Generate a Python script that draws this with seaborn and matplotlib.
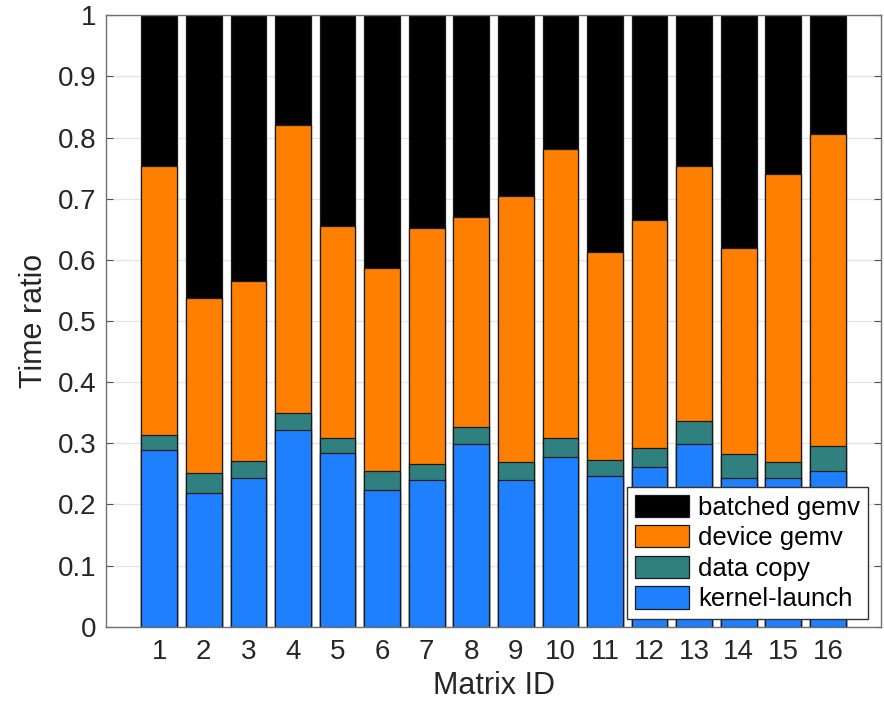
import numpy as np
import pandas as pd
import matplotlib
matplotlib.use("Agg")
import matplotlib.pyplot as plt
import seaborn as sns
from matplotlib.patches import Patch

# ---- data ----
matrix_ids = [str(i) for i in range(1, 17)]
kernel_launch = [0.289, 0.218, 0.243, 0.322, 0.284, 0.223, 0.240, 0.299,
                 0.240, 0.278, 0.246, 0.261, 0.298, 0.243, 0.243, 0.254]
data_copy = [0.024, 0.033, 0.028, 0.027, 0.025, 0.031, 0.026, 0.027,
             0.030, 0.031, 0.026, 0.031, 0.039, 0.040, 0.027, 0.041]
device_gemv = [0.440, 0.286, 0.294, 0.471, 0.347, 0.333, 0.386, 0.344,
               0.435, 0.472, 0.340, 0.373, 0.417, 0.337, 0.471, 0.510]
batched_gemv = [0.247, 0.463, 0.435, 0.180, 0.344, 0.413, 0.348, 0.330,
                0.295, 0.219, 0.388, 0.335, 0.246, 0.380, 0.259, 0.195]
series_names = ["kernel-launch", "data copy", "device gemv", "batched gemv"]
series_colors = ["#1f80ff", "#318080", "#ff8000", "#000000"]
ytick_values = [0, 0.1, 0.2, 0.3, 0.4, 0.5, 0.6, 0.7, 0.8, 0.9, 1]
ytick_labels = ["0", "0.1", "0.2", "0.3", "0.4", "0.5", "0.6", "0.7", "0.8", "0.9", "1"]

df = pd.DataFrame({
    "Matrix ID": matrix_ids,
    "kernel-launch": kernel_launch,
    "data copy": data_copy,
    "device gemv": device_gemv,
    "batched gemv": batched_gemv,
})
# cumulative tops for stacking
cum = df[series_names].cumsum(axis=1)

sns.set_theme(style="white")
plt.rcParams["font.family"] = ["Liberation Sans", "DejaVu Sans"]

fig = plt.figure(figsize=(8.84, 7.07), dpi=100)
ax = fig.add_axes([0.1196, 0.1136, 0.997 - 0.1196, 0.9784 - 0.1136])

text_col = "#262626"
# draw from the top layer down so lower segments overlay
for name, col in zip(series_names[::-1], series_colors[::-1]):
    sns.barplot(x=df["Matrix ID"], y=cum[name], color=col, ax=ax,
                width=0.8, edgecolor="#1a1a1a", linewidth=0.9,
                saturation=1, zorder=2)

ax.set_xlim(-1.2, 16.2)
ax.set_ylim(0, 1)
ax.set_yticks(ytick_values)
ax.set_yticklabels(ytick_labels)
ax.set_xticks(range(len(matrix_ids)))
ax.set_xticklabels(matrix_ids)
ax.yaxis.grid(True, color="#e4e4e4", linewidth=0.9, zorder=0)
ax.set_axisbelow(True)

for sp in ax.spines.values():
    sp.set_visible(True)
    sp.set_color("#707070")
    sp.set_linewidth(1.0)

ax.tick_params(axis="both", direction="in", length=5, width=0.8,
               color="#505050", labelsize=20, labelcolor=text_col,
               top=True, right=True, bottom=True, left=True)
ax.tick_params(axis="x", pad=9)
ax.tick_params(axis="y", pad=7)

ax.set_xlabel("Matrix ID", fontsize=22, color=text_col, labelpad=4)
ax.set_ylabel("Time ratio", fontsize=22, color=text_col, labelpad=6)

handles = [Patch(facecolor=c, edgecolor="#1a1a1a", linewidth=0.9)
           for c in series_colors[::-1]]
leg = ax.legend(handles, series_names[::-1], loc="lower right",
                bbox_to_anchor=(0.9825, 0.0126), borderaxespad=0,
                fontsize=18.5, frameon=True, fancybox=False,
                handlelength=2.1, handleheight=0.95, handletextpad=0.35,
                labelspacing=0.22, borderpad=0.3)
leg.get_frame().set_edgecolor("#333333")
leg.get_frame().set_linewidth(1.0)
leg.get_frame().set_alpha(1)
for t in leg.get_texts():
    t.set_color("#000000")

fig.savefig("out.png", dpi=100)
